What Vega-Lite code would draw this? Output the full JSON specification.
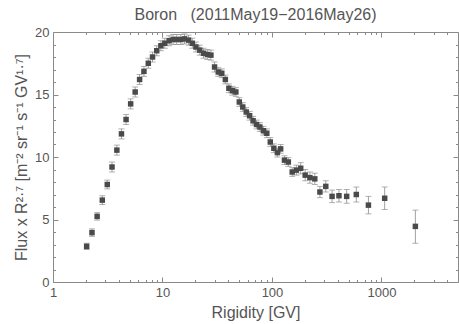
{
  "$schema": "https://vega.github.io/schema/vega-lite/v6.json",
  "width": 405,
  "height": 250,
  "autosize": {"type": "none"},
  "padding": {"left": 53, "top": 32, "right": 1, "bottom": 42},
  "background": "white",
  "title": {"text": "Boron\u00a0\u00a0\u00a0(2011May19−2016May26)", "font": "Liberation Sans", "fontSize": 16, "fontWeight": "normal", "color": "#555555", "anchor": "middle", "offset": 3},
  "config": {
    "view": {"stroke": "#8a8a8a", "strokeWidth": 1},
    "axis": {"grid": false, "domain": false, "tickColor": "#8a8a8a", "labelColor": "#555555", "titleColor": "#555555", "labelFont": "Liberation Sans", "titleFont": "Liberation Sans", "labelFontSize": 13, "titleFontSize": 16, "titleFontWeight": "normal", "labelFlush": false, "labelOverlap": false}
  },
  "data": {"values": [
    {"r": 2.03, "f": 2.85, "lo": 2.6, "hi": 3.1},
    {"r": 2.27, "f": 3.95, "lo": 3.65, "hi": 4.25},
    {"r": 2.53, "f": 5.25, "lo": 4.95, "hi": 5.55},
    {"r": 2.82, "f": 6.55, "lo": 6.2, "hi": 6.9},
    {"r": 3.13, "f": 7.8, "lo": 7.45, "hi": 8.15},
    {"r": 3.46, "f": 9.2, "lo": 8.8, "hi": 9.6},
    {"r": 3.83, "f": 10.55, "lo": 10.15, "hi": 10.95},
    {"r": 4.22, "f": 11.85, "lo": 11.45, "hi": 12.25},
    {"r": 4.65, "f": 13.0, "lo": 12.6, "hi": 13.4},
    {"r": 5.12, "f": 14.25, "lo": 13.85, "hi": 14.65},
    {"r": 5.63, "f": 15.2, "lo": 14.8, "hi": 15.6},
    {"r": 6.18, "f": 16.2, "lo": 15.8, "hi": 16.6},
    {"r": 6.77, "f": 16.85, "lo": 16.45, "hi": 17.25},
    {"r": 7.42, "f": 17.5, "lo": 17.1, "hi": 17.9},
    {"r": 8.11, "f": 18.0, "lo": 17.6, "hi": 18.4},
    {"r": 8.86, "f": 18.5, "lo": 18.1, "hi": 18.9},
    {"r": 9.67, "f": 18.9, "lo": 18.5, "hi": 19.3},
    {"r": 10.5, "f": 19.1, "lo": 18.7, "hi": 19.5},
    {"r": 11.5, "f": 19.3, "lo": 18.9, "hi": 19.7},
    {"r": 12.5, "f": 19.4, "lo": 19.0, "hi": 19.8},
    {"r": 13.5, "f": 19.4, "lo": 19.0, "hi": 19.8},
    {"r": 14.7, "f": 19.4, "lo": 19.0, "hi": 19.8},
    {"r": 15.9, "f": 19.45, "lo": 19.05, "hi": 19.85},
    {"r": 17.3, "f": 19.35, "lo": 18.95, "hi": 19.75},
    {"r": 18.7, "f": 19.1, "lo": 18.7, "hi": 19.5},
    {"r": 20.2, "f": 18.8, "lo": 18.4, "hi": 19.2},
    {"r": 21.9, "f": 18.55, "lo": 18.15, "hi": 18.95},
    {"r": 23.7, "f": 18.3, "lo": 17.9, "hi": 18.7},
    {"r": 25.7, "f": 18.2, "lo": 17.8, "hi": 18.6},
    {"r": 27.7, "f": 18.15, "lo": 17.75, "hi": 18.55},
    {"r": 29.9, "f": 17.2, "lo": 16.8, "hi": 17.6},
    {"r": 32.3, "f": 16.8, "lo": 16.45, "hi": 17.15},
    {"r": 34.8, "f": 16.7, "lo": 16.35, "hi": 17.05},
    {"r": 37.5, "f": 16.2, "lo": 15.85, "hi": 16.55},
    {"r": 40.4, "f": 15.5, "lo": 15.15, "hi": 15.85},
    {"r": 43.5, "f": 15.3, "lo": 14.95, "hi": 15.65},
    {"r": 46.8, "f": 15.2, "lo": 14.85, "hi": 15.55},
    {"r": 50.3, "f": 14.4, "lo": 14.05, "hi": 14.75},
    {"r": 54.1, "f": 14.0, "lo": 13.65, "hi": 14.35},
    {"r": 58.2, "f": 13.6, "lo": 13.25, "hi": 13.95},
    {"r": 62.5, "f": 13.3, "lo": 12.95, "hi": 13.65},
    {"r": 67.2, "f": 12.9, "lo": 12.55, "hi": 13.25},
    {"r": 72.3, "f": 12.6, "lo": 12.25, "hi": 12.95},
    {"r": 77.6, "f": 12.4, "lo": 12.05, "hi": 12.75},
    {"r": 83.5, "f": 12.1, "lo": 11.75, "hi": 12.45},
    {"r": 89.7, "f": 11.9, "lo": 11.55, "hi": 12.25},
    {"r": 96.5, "f": 11.2, "lo": 10.85, "hi": 11.55},
    {"r": 104, "f": 10.7, "lo": 10.35, "hi": 11.05},
    {"r": 112, "f": 10.35, "lo": 10.0, "hi": 10.7},
    {"r": 120, "f": 10.65, "lo": 10.3, "hi": 11.0},
    {"r": 130, "f": 9.75, "lo": 9.4, "hi": 10.1},
    {"r": 141, "f": 9.6, "lo": 9.25, "hi": 9.95},
    {"r": 153, "f": 8.8, "lo": 8.45, "hi": 9.15},
    {"r": 167, "f": 8.95, "lo": 8.55, "hi": 9.35},
    {"r": 183, "f": 9.1, "lo": 8.65, "hi": 9.55},
    {"r": 201, "f": 8.55, "lo": 8.1, "hi": 9.0},
    {"r": 222, "f": 8.35, "lo": 7.9, "hi": 8.8},
    {"r": 246, "f": 8.25, "lo": 7.8, "hi": 8.7},
    {"r": 274, "f": 7.2, "lo": 6.75, "hi": 7.65},
    {"r": 310, "f": 7.65, "lo": 7.2, "hi": 8.1},
    {"r": 354, "f": 6.85, "lo": 6.35, "hi": 7.35},
    {"r": 409, "f": 6.9, "lo": 6.4, "hi": 7.4},
    {"r": 481, "f": 6.85, "lo": 6.3, "hi": 7.4},
    {"r": 589, "f": 7.0, "lo": 6.4, "hi": 7.6},
    {"r": 760, "f": 6.15, "lo": 5.45, "hi": 6.85},
    {"r": 1070, "f": 6.7, "lo": 5.8, "hi": 7.6},
    {"r": 2040, "f": 4.45, "lo": 3.1, "hi": 5.75}
  ]},
  "resolve": {"axis": {"x": "independent", "y": "independent"}},
  "layer": [
    {
      "mark": {"type": "rule", "color": "#a0a0a0", "strokeWidth": 1},
      "encoding": {
        "x": {"field": "r", "type": "quantitative", "scale": {"type": "log", "domain": [1, 5000], "nice": false},
              "axis": {"orient": "bottom", "values": [1, 10, 100, 1000], "format": "d", "tickSize": -5, "labelPadding": 9, "title": "Rigidity [GV]", "titlePadding": 5}},
        "y": {"field": "lo", "type": "quantitative", "scale": {"domain": [0, 20], "nice": false},
              "axis": {"orient": "left", "values": [0, 5, 10, 15, 20], "tickSize": -5, "labelPadding": 9, "title": "Flux x R²·⁷ [m⁻² sr⁻¹ s⁻¹ GV¹·⁷]", "titlePadding": 5}},
        "y2": {"field": "hi"}
      }
    },
    {
      "mark": {"type": "tick", "orient": "horizontal", "color": "#909090", "size": 6, "thickness": 1},
      "encoding": {
        "x": {"field": "r", "type": "quantitative",
              "axis": {"orient": "bottom", "values": [2, 3, 4, 5, 6, 7, 8, 9, 20, 30, 40, 50, 60, 70, 80, 90, 200, 300, 400, 500, 600, 700, 800, 900, 2000, 3000, 4000], "tickSize": -2.5, "labels": false, "title": null}},
        "y": {"field": "hi", "type": "quantitative",
              "axis": {"orient": "left", "values": [1, 2, 3, 4, 6, 7, 8, 9, 11, 12, 13, 14, 16, 17, 18, 19], "tickSize": -2.5, "labels": false, "title": null}}
      }
    },
    {
      "mark": {"type": "tick", "orient": "horizontal", "color": "#909090", "size": 6, "thickness": 1},
      "encoding": {
        "x": {"field": "r", "type": "quantitative",
              "axis": {"orient": "top", "values": [1, 10, 100, 1000], "tickSize": -5, "labels": false, "title": null}},
        "y": {"field": "lo", "type": "quantitative",
              "axis": {"orient": "right", "values": [0, 5, 10, 15, 20], "tickSize": -5, "labels": false, "title": null}}
      }
    },
    {
      "mark": {"type": "point", "shape": "square", "filled": true, "color": "#4a4a4a", "size": 30, "opacity": 1},
      "encoding": {
        "x": {"field": "r", "type": "quantitative",
              "axis": {"orient": "top", "values": [2, 3, 4, 5, 6, 7, 8, 9, 20, 30, 40, 50, 60, 70, 80, 90, 200, 300, 400, 500, 600, 700, 800, 900, 2000, 3000, 4000], "tickSize": -2.5, "labels": false, "title": null}},
        "y": {"field": "f", "type": "quantitative",
              "axis": {"orient": "right", "values": [1, 2, 3, 4, 6, 7, 8, 9, 11, 12, 13, 14, 16, 17, 18, 19], "tickSize": -2.5, "labels": false, "title": null}}
      }
    }
  ]
}
